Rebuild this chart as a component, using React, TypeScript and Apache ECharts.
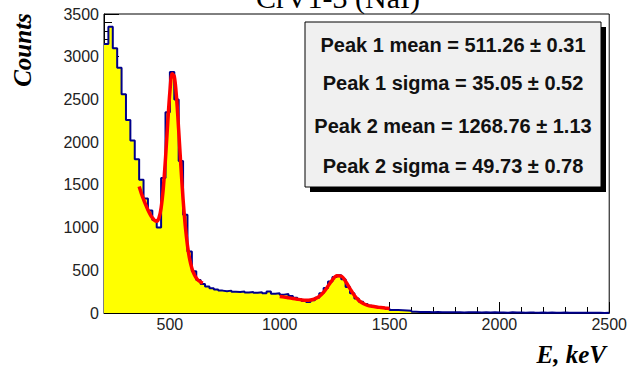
import React, { useEffect, useRef } from "react";
import * as echarts from "echarts";

// Histogram: bins of 20 keV from 200 keV
const binStart = 200;
const binWidth = 20;
const counts = [
  3150, 3350, 3100, 2870, 2560, 2260, 2020, 1800, 1560, 1340,
  1200, 1090, 1000, 1580, 2350, 2820, 2500, 1780, 1150, 720,
  490, 385, 340, 310, 290, 275, 262, 255, 262, 248,
  245, 252, 240, 246, 236, 242, 232, 252, 226, 232,
  215, 222, 200, 178, 160, 140, 128, 150, 178, 232,
  292, 368, 422, 442, 395, 305, 232, 170, 132, 106,
  86, 74, 66, 60, 50, 36, 34, 32, 30, 27,
  14, 12, 11, 12, 10, 11, 9, 10, 9, 8,
  10, 7, 9, 8, 10, 6, 8, 5, 9, 7,
  6, 4, 8, 5, 6, 3, 7, 5, 4, 6,
  3, 5, 4, 2, 5, 3, 4, 2, 3, 4,
  2, 3, 2, 1, 3,
];

// Fit curve 1 (peak 1 region)
const fit1E = [360, 370, 380, 390, 400, 410, 420, 430, 440, 450, 460, 470, 480, 490, 500, 510, 520, 530, 540, 550, 560, 570, 580, 590, 600, 610, 620, 630, 640, 650];
const fit1Y = [1480, 1400, 1330, 1265, 1205, 1155, 1115, 1085, 1075, 1110, 1230, 1460, 1810, 2220, 2590, 2800, 2770, 2530, 2140, 1720, 1330, 1020, 790, 630, 525, 455, 410, 380, 362, 350];

// Fit curve 2 (peak 2 region)
const fit2E = [1000, 1020, 1040, 1060, 1080, 1100, 1120, 1140, 1160, 1180, 1200, 1220, 1240, 1260, 1280, 1300, 1320, 1340, 1360, 1380, 1400, 1420, 1440, 1460, 1480, 1500];
const fit2Y = [192, 186, 178, 170, 161, 153, 149, 152, 165, 195, 245, 315, 388, 435, 432, 370, 285, 205, 148, 112, 90, 78, 70, 64, 58, 53];

const xMajorTicks = [500, 1000, 1500, 2000, 2500];
const statsLines = [
  "Peak 1 mean = 511.26 \u00b1 0.31",
  "Peak 1 sigma = 35.05 \u00b1 0.52",
  "Peak 2 mean = 1268.76 \u00b1 1.13",
  "Peak 2 sigma = 49.73 \u00b1 0.78",
];
const titleText = "CrV1-3 (NaI)";
const yTitle = "Counts";
const xTitle = "E, keV";

export default function App() {
  const ref = useRef<HTMLDivElement>(null);
  useEffect(() => {
    if (!ref.current) return;
    const chart = echarts.init(ref.current, undefined, { renderer: "svg" });
    const histData: number[][] = counts.map((c, i) => [binStart + i * binWidth, c]);
    histData.push([binStart + counts.length * binWidth, counts[counts.length - 1]]);
    const fit1 = fit1E.map((e, i) => [e, fit1Y[i]]);
    const fit2 = fit2E.map((e, i) => [e, fit2Y[i]]);
    const labelFont = { fontFamily: "Liberation Sans", fontSize: 16, color: "#222" };
    const statYs = [45, 83, 126, 166];
    chart.setOption({
      animation: false,
      backgroundColor: "#fff",
      grid: { left: 104, right: 18, top: 14, bottom: 58, show: true, borderColor: "#000", borderWidth: 1, backgroundColor: "#fff" },
      xAxis: [
        {
          type: "value", min: 200, max: 2500, interval: 100,
          axisLine: { show: true, lineStyle: { color: "#000", width: 1 } },
          axisTick: { show: true, inside: true, length: 6, lineStyle: { color: "#000" } },
          axisLabel: { ...labelFont, margin: 3, formatter: (v: number) => (v % 500 === 0 ? String(v) : "") },
          splitLine: { show: false },
        },
        {
          type: "value", min: 200, max: 2500, position: "bottom", offset: 0,
          axisLine: { show: false },
          axisTick: { show: true, inside: true, length: 11, customValues: xMajorTicks, lineStyle: { color: "#000" } },
          axisLabel: { show: false },
          splitLine: { show: false },
        },
      ],
      yAxis: [
        {
          type: "value", min: 0, max: 3500, interval: 100,
          axisLine: { show: true, lineStyle: { color: "#000", width: 1 } },
          axisTick: { show: true, inside: true, length: 8, lineStyle: { color: "#000" } },
          axisLabel: { ...labelFont, margin: 5, formatter: (v: number) => (v % 500 === 0 ? String(v) : "") },
          splitLine: { show: false },
        },
        {
          type: "value", min: 0, max: 3500, interval: 500, position: "left", offset: 0,
          axisLine: { show: false },
          axisTick: { show: true, inside: true, length: 15, lineStyle: { color: "#000" } },
          axisLabel: { show: false },
          splitLine: { show: false },
        },
      ],
      series: [
        {
          type: "line", step: "end", data: histData, symbol: "none", z: 2,
          lineStyle: { color: "#00008b", width: 2 },
          areaStyle: { color: "#ffff00", opacity: 1 },
        },
        {
          type: "line", data: fit1, symbol: "none", smooth: 0.3, z: 3,
          lineStyle: { color: "#ff0000", width: 3.5 },
        },
        {
          type: "line", data: fit2, symbol: "none", smooth: 0.3, z: 3,
          lineStyle: { color: "#ff0000", width: 3.5 },
        },
      ],
      graphic: [
        {
          type: "text", x: 338, y: 12, z: 10,
          style: { text: titleText, font: '30px "Liberation Serif"', fill: "#000", align: "center", verticalAlign: "bottom" },
        },
        {
          type: "text", x: 22, y: 50, rotation: Math.PI / 2, z: 10,
          style: { text: yTitle, font: 'italic bold 25px "Liberation Serif"', fill: "#000", align: "center", verticalAlign: "middle" },
        },
        {
          type: "text", x: 606, y: 354, z: 10,
          style: { text: xTitle, font: 'italic bold 25px "Liberation Serif"', fill: "#000", align: "right", verticalAlign: "middle" },
        },
        { type: "rect", z: 10, shape: { x: 310, y: 27, width: 296, height: 165 }, style: { fill: "#000" } },
        { type: "rect", z: 11, shape: { x: 305, y: 22, width: 296, height: 165 }, style: { fill: "#f0f0f0", stroke: "#000", lineWidth: 1 } },
        ...statsLines.map((t, i) => ({
          type: "text", x: 453, y: statYs[i], z: 12,
          style: { text: t, font: 'bold 20px "Liberation Sans"', fill: "#111", align: "center", verticalAlign: "middle" },
        })),
      ],
    });
    return () => chart.dispose();
  }, []);
  return <div ref={ref} style={{ position: "fixed", left: 0, top: 0, width: 630, height: 371, background: "#fff" }} />;
}
